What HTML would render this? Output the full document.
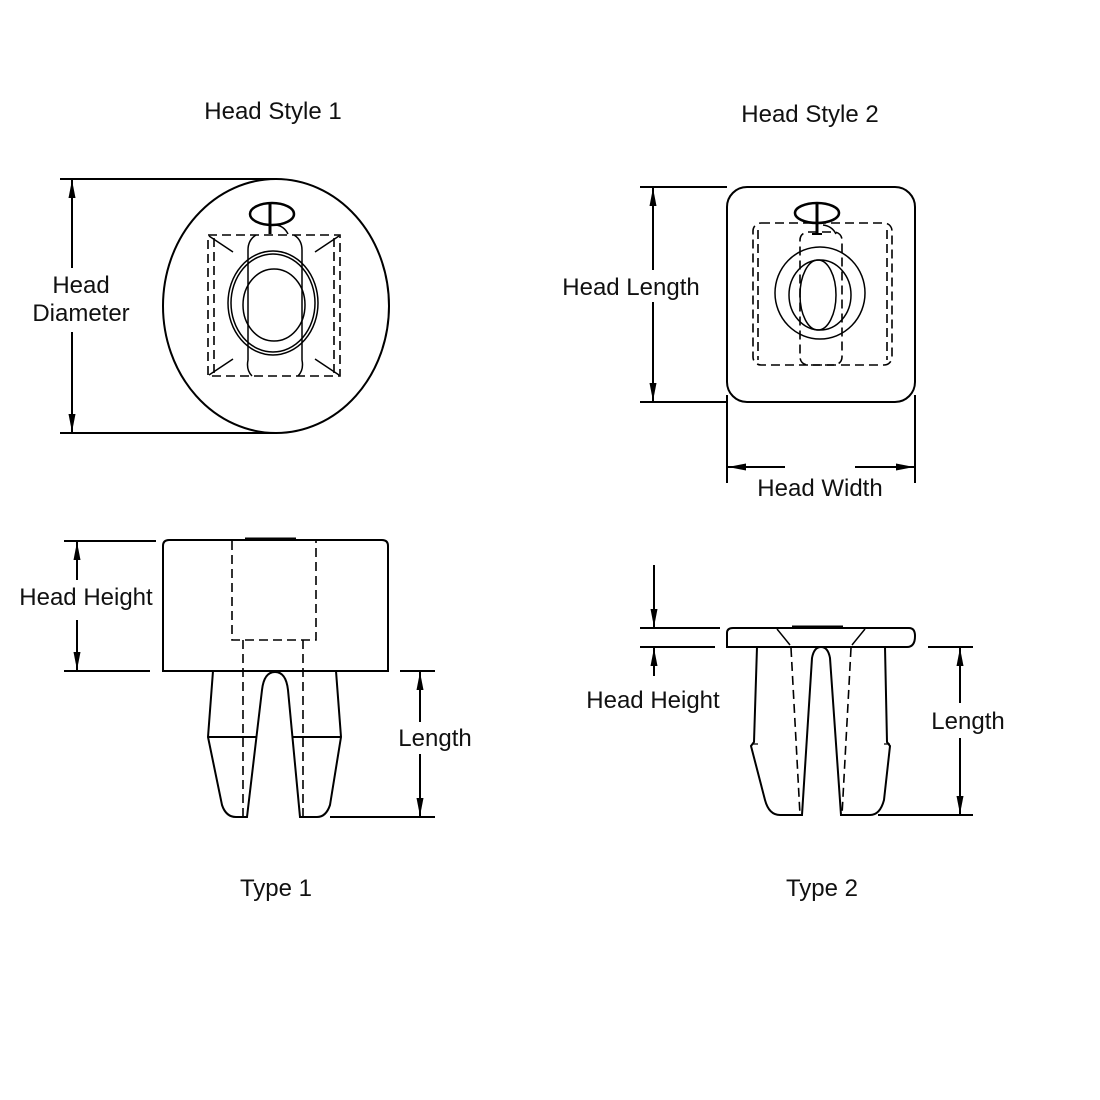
<!DOCTYPE html>
<html><head><meta charset="utf-8"><style>
html,body{margin:0;padding:0;background:#fff;}
svg{display:block;}
text{font-family:"Liberation Sans",Arial,sans-serif;font-size:24px;fill:#111;text-anchor:middle;}
</style></head><body>
<svg width="1100" height="1100" viewBox="0 0 1100 1100" xmlns="http://www.w3.org/2000/svg">
<defs>
<marker id="a" viewBox="0 0 18 10" refX="18" refY="5" markerWidth="18" markerHeight="10" markerUnits="userSpaceOnUse" orient="auto"><path d="M0,1.5 L18,5 L0,8.5 Z" fill="#000"/></marker>
</defs>
<g stroke="#000" stroke-width="2" fill="none">
<ellipse cx="276" cy="306" rx="113" ry="127"/>
<line x1="60" y1="179" x2="276" y2="179"/>
<line x1="60" y1="433" x2="276" y2="433"/>
<line x1="72" y1="268" x2="72" y2="180" marker-end="url(#a)"/>
<line x1="72" y1="332" x2="72" y2="432" marker-end="url(#a)"/>
<g stroke-width="1.6" stroke-dasharray="9,5">
<rect x="208" y="235" width="132" height="141"/>
<line x1="214" y1="238" x2="214" y2="373"/>
<line x1="334" y1="238" x2="334" y2="373"/>
</g>
<g stroke-width="1.5">
<line x1="209" y1="236" x2="233" y2="252"/><line x1="339" y1="236" x2="315" y2="252"/>
<line x1="209" y1="375" x2="233" y2="359"/><line x1="339" y1="375" x2="315" y2="359"/>
<path d="M252,376 Q246,370 248,360 L248,250 Q248,240 256,235 M298,376 Q304,370 302,360 L302,250 Q302,240 294,235"/>
<ellipse cx="273" cy="303" rx="45" ry="52"/>
<ellipse cx="273" cy="303" rx="42" ry="49"/>
<ellipse cx="274" cy="305" rx="31" ry="36"/>
<ellipse cx="272" cy="214" rx="22" ry="11" stroke-width="2.5"/>
<line x1="270" y1="202" x2="270" y2="234" stroke-width="3"/>
<path d="M276,225 Q284,226 288,234"/>
</g>
<rect x="727" y="187" width="188" height="215" rx="20"/>
<line x1="640" y1="187" x2="727" y2="187"/>
<line x1="640" y1="402" x2="727" y2="402"/>
<line x1="653" y1="270" x2="653" y2="188" marker-end="url(#a)"/>
<line x1="653" y1="302" x2="653" y2="401" marker-end="url(#a)"/>
<line x1="727" y1="395" x2="727" y2="483"/>
<line x1="915" y1="395" x2="915" y2="483"/>
<line x1="785" y1="467" x2="728" y2="467" marker-end="url(#a)"/>
<line x1="855" y1="467" x2="914" y2="467" marker-end="url(#a)"/>
<g stroke-width="1.6" stroke-dasharray="9,5">
<rect x="753" y="223" width="139" height="142" rx="8"/>
<line x1="758" y1="230" x2="758" y2="360"/>
<line x1="887" y1="230" x2="887" y2="360"/>
<rect x="800" y="232" width="42" height="133" rx="8"/>
</g>
<g stroke-width="1.5">
<ellipse cx="820" cy="293" rx="45" ry="46"/>
<ellipse cx="820" cy="295" rx="31" ry="35"/>
<ellipse cx="818" cy="295" rx="18" ry="35"/>
<ellipse cx="817" cy="213" rx="22" ry="10" stroke-width="2.5"/>
<line x1="817" y1="203" x2="817" y2="234" stroke-width="3"/>
<line x1="812" y1="234" x2="822" y2="234" stroke-width="2"/>
<path d="M823,225 Q832,226 836,234"/>
</g>
<path d="M163,671 L163,546 Q163,540 169,540 L382,540 Q388,540 388,546 L388,671 Z"/>
<line x1="245" y1="539" x2="296" y2="539" stroke-width="3"/>
<g stroke-width="1.6" stroke-dasharray="9,5">
<path d="M232,541 L232,640 L316,640 L316,541"/>
<line x1="243" y1="640" x2="243" y2="817"/>
<line x1="303" y1="640" x2="303" y2="817"/>
</g>
<path d="M213,671 L208,737 L222,805 Q226,817 236,817 L247,817 L262,690 Q264,672 275,672 Q286,672 288,690 L300,817 L317,817 Q326,817 330,805 L341,737 L336,671"/>
<line x1="208" y1="737" x2="256" y2="737"/>
<line x1="293" y1="737" x2="341" y2="737"/>
<line x1="64" y1="541" x2="156" y2="541"/>
<line x1="64" y1="671" x2="150" y2="671"/>
<line x1="77" y1="580" x2="77" y2="542" marker-end="url(#a)"/>
<line x1="77" y1="620" x2="77" y2="670" marker-end="url(#a)"/>
<line x1="400" y1="671" x2="435" y2="671"/>
<line x1="330" y1="817" x2="435" y2="817"/>
<line x1="420" y1="722" x2="420" y2="672" marker-end="url(#a)"/>
<line x1="420" y1="754" x2="420" y2="816" marker-end="url(#a)"/>
<path d="M727,647 L727,633 Q727,628 733,628 L909,628 Q915,628 915,636 Q915,647 907,647 Z"/>
<line x1="792" y1="627" x2="843" y2="627" stroke-width="3"/>
<g stroke-width="1.5"><line x1="777" y1="629" x2="790" y2="645"/><line x1="865" y1="629" x2="852" y2="645"/></g>
<g stroke-width="1.6" stroke-dasharray="9,5">
<line x1="791" y1="648" x2="800" y2="815"/>
<line x1="851" y1="648" x2="842" y2="815"/>
</g>
<path d="M757,647 L754,742 L751,746 L765,800 Q769,815 780,815 L802,815 L812,658 Q814,647 821,647 Q828,647 830,658 L841,815 L870,815 Q880,815 884,800 L890,746 L887,742 L885,647"/>
<path d="M752,744 L758,744 M884,744 L890,744" stroke-width="1.3"/>
<line x1="640" y1="628" x2="720" y2="628"/>
<line x1="640" y1="647" x2="715" y2="647"/>
<line x1="654" y1="565" x2="654" y2="627" marker-end="url(#a)"/>
<line x1="654" y1="676" x2="654" y2="648" marker-end="url(#a)"/>
<line x1="928" y1="647" x2="973" y2="647"/>
<line x1="878" y1="815" x2="973" y2="815"/>
<line x1="960" y1="703" x2="960" y2="648" marker-end="url(#a)"/>
<line x1="960" y1="738" x2="960" y2="814" marker-end="url(#a)"/>
</g>
<text x="273" y="119">Head Style 1</text>
<text x="810" y="122">Head Style 2</text>
<text x="81" y="293">Head</text>
<text x="81" y="321">Diameter</text>
<text x="631" y="295">Head Length</text>
<text x="820" y="496">Head Width</text>
<text x="86" y="605">Head Height</text>
<text x="435" y="746">Length</text>
<text x="653" y="708">Head Height</text>
<text x="968" y="729">Length</text>
<text x="276" y="896">Type 1</text>
<text x="822" y="896">Type 2</text>
</svg>
</body></html>
